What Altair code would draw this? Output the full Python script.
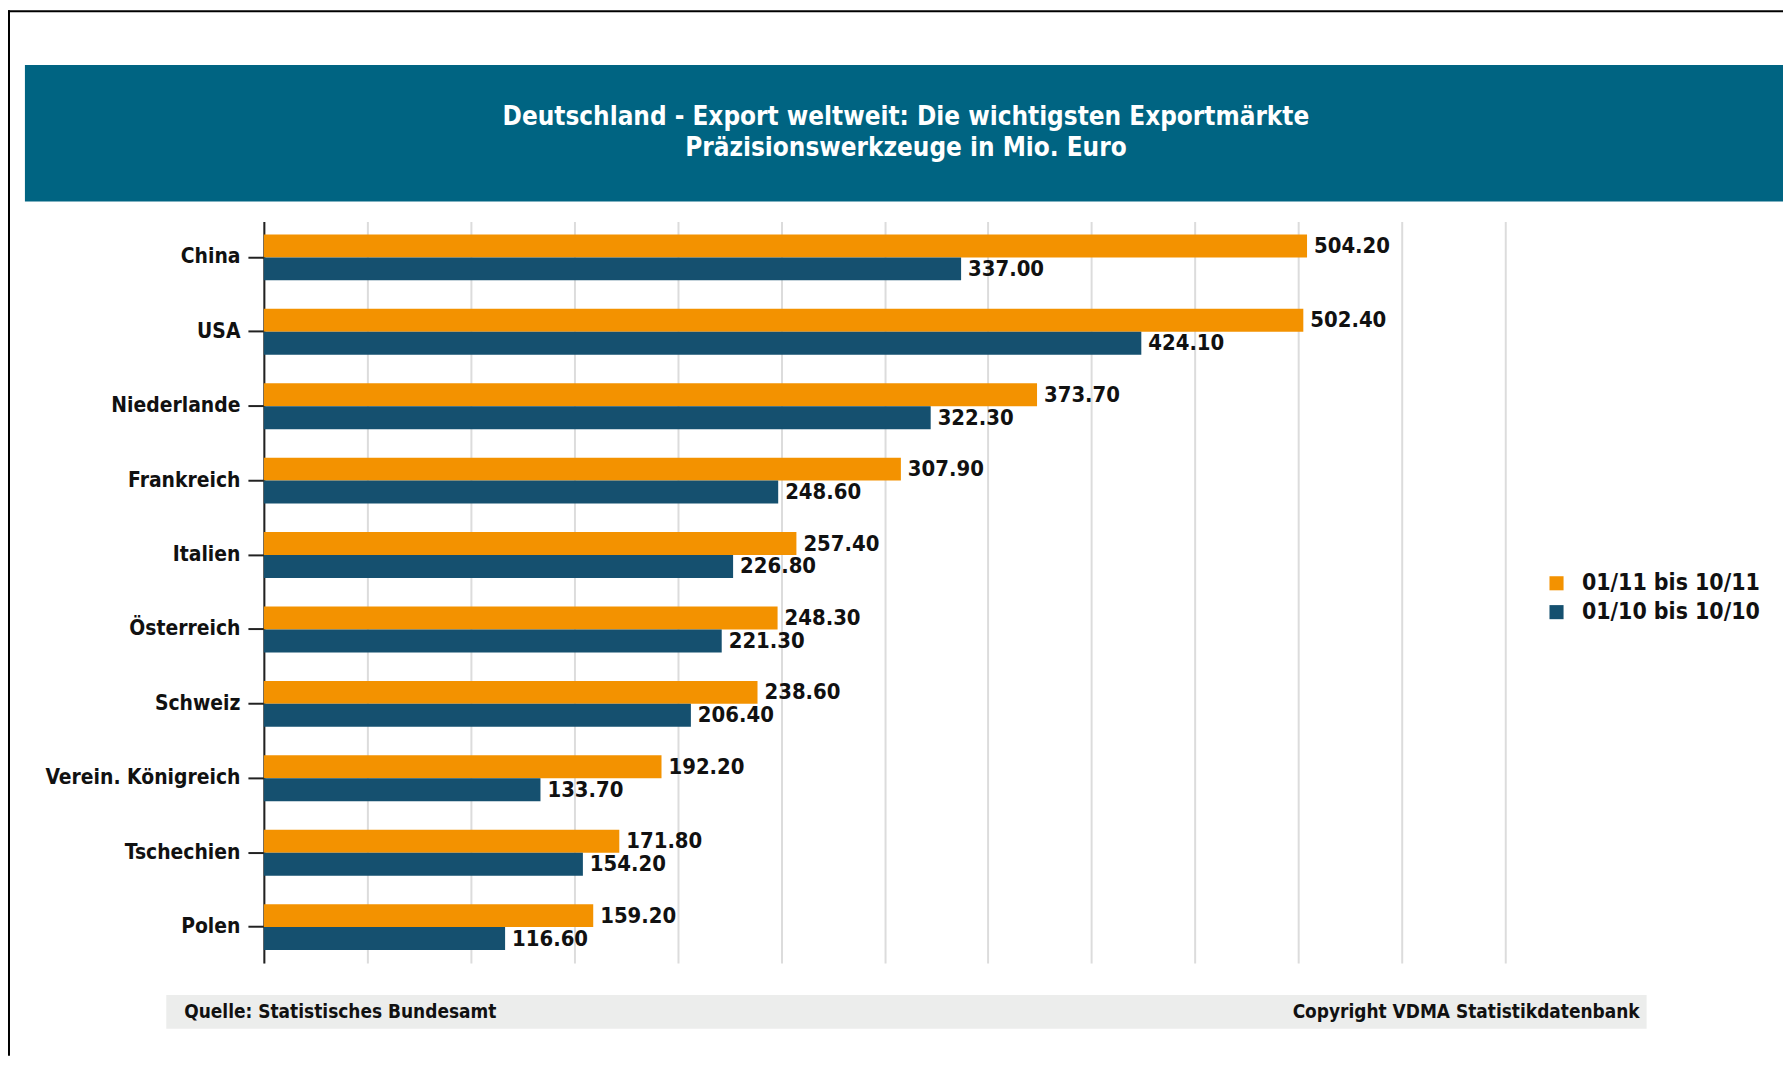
import altair as alt
import pandas as pd

laender = ["China", "USA", "Niederlande", "Frankreich", "Italien", "Österreich",
           "Schweiz", "Verein. Königreich", "Tschechien", "Polen"]
werte_2011 = [504.20, 502.40, 373.70, 307.90, 257.40, 248.30, 238.60, 192.20, 171.80, 159.20]
werte_2010 = [337.00, 424.10, 322.30, 248.60, 226.80, 221.30, 206.40, 133.70, 154.20, 116.60]
serien = ["01/11 bis 10/11", "01/10 bis 10/10"]
farben = ["#F39200", "#15506F"]
titel_zeilen = ["Deutschland - Export weltweit: Die wichtigsten Exportmärkte",
                "Präzisionswerkzeuge in Mio. Euro"]
quelle = "Quelle: Statistisches Bundesamt"
copyright_text = "Copyright VDMA Statistikdatenbank"
grid_werte = list(range(0, 601, 50))

rows = []
for i, land in enumerate(laender):
    rows.append({"Land": land, "Zeitraum": serien[0], "Wert": werte_2011[i]})
    rows.append({"Land": land, "Zeitraum": serien[1], "Wert": werte_2010[i]})
df = pd.DataFrame(rows)
df["Label"] = df["Wert"].map(lambda v: f"{v:.2f}")

FONT = "DejaVu Sans Condensed, DejaVu Sans, sans-serif"
W, H = 1247, 745
PL, PT = 257, 212
TOTAL_W, TOTAL_H = 1783, 1050

one = alt.Data(values=[{"a": 1}])

frame_left = alt.Chart(one).mark_rule(color="#000000", strokeWidth=2).encode(
    x=alt.value(-PL + 1), y=alt.value(-PT), y2=alt.value(TOTAL_H - PT))
frame_top = alt.Chart(one).mark_rule(color="#000000", strokeWidth=2).encode(
    y=alt.value(-PT + 1), x=alt.value(-PL), x2=alt.value(TOTAL_W - PL))

title_band = alt.Chart(one).mark_rect(color="#006482").encode(
    x=alt.value(-240), x2=alt.value(TOTAL_W - PL), y=alt.value(-157), y2=alt.value(-20))

title_line1 = alt.Chart(alt.Data(values=[{"t": titel_zeilen[0]}])).mark_text(
    color="white", font=FONT, fontSize=26, fontWeight="bold", align="center", baseline="middle"
).encode(text="t:N", x=alt.value(645), y=alt.value(-105))
title_line2 = alt.Chart(alt.Data(values=[{"t": titel_zeilen[1]}])).mark_text(
    color="white", font=FONT, fontSize=26, fontWeight="bold", align="center", baseline="middle"
).encode(text="t:N", x=alt.value(645), y=alt.value(-74))

footer_band = alt.Chart(one).mark_rect(color="#ECEDEC").encode(
    x=alt.value(-98), x2=alt.value(1389), y=alt.value(777), y2=alt.value(811))
footer_left = alt.Chart(alt.Data(values=[{"t": quelle}])).mark_text(
    color="#111111", font=FONT, fontSize=19, fontWeight="bold", align="left", baseline="middle"
).encode(text="t:N", x=alt.value(-80), y=alt.value(794))
footer_right = alt.Chart(alt.Data(values=[{"t": copyright_text}])).mark_text(
    color="#111111", font=FONT, fontSize=19, fontWeight="bold", align="right", baseline="middle"
).encode(text="t:N", x=alt.value(1382), y=alt.value(794))

y_enc = alt.Y("Land:N", sort=laender,
              scale=alt.Scale(paddingInner=0.383, paddingOuter=0.175),
              axis=alt.Axis(title=None, labelFont=FONT, labelFontSize=21, labelFontWeight="bold",
                            labelColor="#111111", tickColor="#222222", tickSize=16, tickWidth=2,
                            domainColor="#222222", domainWidth=2, labelPadding=8, grid=False,
                            labelLimit=0))
x_enc = alt.X("Wert:Q", scale=alt.Scale(domain=[0, 600], nice=False),
              axis=alt.Axis(title=None, labels=False, ticks=False, domain=False, grid=True,
                            values=grid_werte, gridColor="#DCDCDC", gridWidth=2))
yoff = alt.YOffset("Zeitraum:N", sort=serien, scale=alt.Scale(paddingInner=0, paddingOuter=0))

bars = alt.Chart(df).mark_bar().encode(
    y=y_enc, x=x_enc, yOffset=yoff,
    color=alt.Color("Zeitraum:N", sort=serien,
                    scale=alt.Scale(domain=serien, range=farben),
                    legend=alt.Legend(title=None, orient="none", legendX=1287, legendY=352,
                                      labelFont=FONT, labelFontSize=23, labelFontWeight="bold",
                                      labelColor="#111111", symbolType="square", symbolSize=200,
                                      symbolStrokeWidth=0, labelOffset=14, rowPadding=5, padding=0,
                                      labelLimit=0)),
)

labels = alt.Chart(df).mark_text(
    align="left", baseline="middle", dx=7, font=FONT, fontSize=22, fontWeight="bold", color="#111111"
).encode(y=alt.Y("Land:N", sort=laender), x="Wert:Q", yOffset=alt.YOffset("Zeitraum:N", sort=serien),
         text="Label:N")

chart = alt.layer(
    frame_left, frame_top, title_band, title_line1, title_line2,
    footer_band, footer_left, footer_right, bars, labels
).properties(
    width=W, height=H,
    autosize=alt.AutoSizeParams(type="none"),
    padding={"left": PL, "top": PT, "right": TOTAL_W - PL - W, "bottom": TOTAL_H - PT - H},
    background="white",
).configure_view(stroke=None)

chart.save("out.html", embed_options={"renderer": "svg", "actions": False})
